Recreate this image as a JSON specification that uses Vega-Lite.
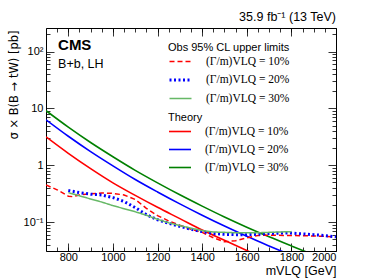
{
  "$schema": "https://vega.github.io/schema/vega-lite/v6.json",
  "width": 290,
  "height": 223,
  "autosize": {"type": "none"},
  "padding": {"left": 46, "top": 28, "right": 38, "bottom": 29},
  "title": {"text": "35.9 fb⁻¹ (13 TeV)", "anchor": "end", "frame": "group", "offset": 4, "fontSize": 12.5, "fontWeight": "normal", "font": "Liberation Sans", "color": "black"},
  "config": {
    "view": {"stroke": "black", "strokeWidth": 1},
    "axis": {"grid": false, "domain": false, "tickColor": "black", "tickWidth": 0.8, "labelColor": "black", "titleColor": "black", "labelFont": "Liberation Sans", "titleFont": "Liberation Sans", "titleFontWeight": "normal"},
    "legend": {"symbolType": "stroke", "padding": 0}
  },
  "datasets": {
    "theory": [
      {"m": 700, "xsec": 3.16, "w": "10%"}, {"m": 800, "xsec": 1.62, "w": "10%"}, {"m": 900, "xsec": 0.871, "w": "10%"}, {"m": 1000, "xsec": 0.49, "w": "10%"}, {"m": 1100, "xsec": 0.295, "w": "10%"}, {"m": 1200, "xsec": 0.182, "w": "10%"}, {"m": 1300, "xsec": 0.115, "w": "10%"}, {"m": 1400, "xsec": 0.0724, "w": "10%"}, {"m": 1500, "xsec": 0.0479, "w": "10%"}, {"m": 1600, "xsec": 0.0316, "w": "10%"}, {"m": 1700, "xsec": 0.021, "w": "10%"},
      {"m": 700, "xsec": 6.31, "w": "20%"}, {"m": 800, "xsec": 3.24, "w": "20%"}, {"m": 900, "xsec": 1.74, "w": "20%"}, {"m": 1000, "xsec": 0.977, "w": "20%"}, {"m": 1100, "xsec": 0.562, "w": "20%"}, {"m": 1200, "xsec": 0.339, "w": "20%"}, {"m": 1300, "xsec": 0.209, "w": "20%"}, {"m": 1400, "xsec": 0.132, "w": "20%"}, {"m": 1500, "xsec": 0.0851, "w": "20%"}, {"m": 1600, "xsec": 0.0562, "w": "20%"}, {"m": 1700, "xsec": 0.038, "w": "20%"}, {"m": 1800, "xsec": 0.026, "w": "20%"},
      {"m": 700, "xsec": 9.12, "w": "30%"}, {"m": 800, "xsec": 4.68, "w": "30%"}, {"m": 900, "xsec": 2.51, "w": "30%"}, {"m": 1000, "xsec": 1.41, "w": "30%"}, {"m": 1100, "xsec": 0.813, "w": "30%"}, {"m": 1200, "xsec": 0.49, "w": "30%"}, {"m": 1300, "xsec": 0.302, "w": "30%"}, {"m": 1400, "xsec": 0.191, "w": "30%"}, {"m": 1500, "xsec": 0.123, "w": "30%"}, {"m": 1600, "xsec": 0.0813, "w": "30%"}, {"m": 1700, "xsec": 0.055, "w": "30%"}, {"m": 1800, "xsec": 0.038, "w": "30%"}, {"m": 1900, "xsec": 0.0265, "w": "30%"}
    ],
    "obs": [
      {"m": 700, "xsec": 0.45, "w": "10%"}, {"m": 750, "xsec": 0.37, "w": "10%"}, {"m": 800, "xsec": 0.285, "w": "10%"}, {"m": 820, "xsec": 0.28, "w": "10%"}, {"m": 850, "xsec": 0.3, "w": "10%"}, {"m": 900, "xsec": 0.315, "w": "10%"}, {"m": 950, "xsec": 0.325, "w": "10%"}, {"m": 1000, "xsec": 0.32, "w": "10%"}, {"m": 1050, "xsec": 0.3, "w": "10%"}, {"m": 1100, "xsec": 0.25, "w": "10%"}, {"m": 1150, "xsec": 0.175, "w": "10%"}, {"m": 1200, "xsec": 0.13, "w": "10%"}, {"m": 1250, "xsec": 0.105, "w": "10%"}, {"m": 1300, "xsec": 0.088, "w": "10%"}, {"m": 1350, "xsec": 0.075, "w": "10%"}, {"m": 1400, "xsec": 0.066, "w": "10%"}, {"m": 1450, "xsec": 0.053, "w": "10%"}, {"m": 1500, "xsec": 0.045, "w": "10%"}, {"m": 1550, "xsec": 0.047, "w": "10%"}, {"m": 1600, "xsec": 0.053, "w": "10%"}, {"m": 1650, "xsec": 0.058, "w": "10%"}, {"m": 1700, "xsec": 0.059, "w": "10%"}, {"m": 1800, "xsec": 0.058, "w": "10%"}, {"m": 1900, "xsec": 0.057, "w": "10%"}, {"m": 2000, "xsec": 0.055, "w": "10%"},
      {"m": 800, "xsec": 0.36, "w": "20%"}, {"m": 850, "xsec": 0.33, "w": "20%"}, {"m": 900, "xsec": 0.31, "w": "20%"}, {"m": 950, "xsec": 0.3, "w": "20%"}, {"m": 1000, "xsec": 0.27, "w": "20%"}, {"m": 1050, "xsec": 0.23, "w": "20%"}, {"m": 1100, "xsec": 0.18, "w": "20%"}, {"m": 1150, "xsec": 0.135, "w": "20%"}, {"m": 1200, "xsec": 0.11, "w": "20%"}, {"m": 1250, "xsec": 0.095, "w": "20%"}, {"m": 1300, "xsec": 0.084, "w": "20%"}, {"m": 1350, "xsec": 0.075, "w": "20%"}, {"m": 1400, "xsec": 0.068, "w": "20%"}, {"m": 1450, "xsec": 0.063, "w": "20%"}, {"m": 1500, "xsec": 0.061, "w": "20%"}, {"m": 1550, "xsec": 0.06, "w": "20%"}, {"m": 1600, "xsec": 0.06, "w": "20%"}, {"m": 1650, "xsec": 0.061, "w": "20%"}, {"m": 1700, "xsec": 0.063, "w": "20%"}, {"m": 1750, "xsec": 0.064, "w": "20%"}, {"m": 1800, "xsec": 0.064, "w": "20%"}, {"m": 1850, "xsec": 0.062, "w": "20%"}, {"m": 1900, "xsec": 0.06, "w": "20%"}, {"m": 1950, "xsec": 0.058, "w": "20%"}, {"m": 2000, "xsec": 0.055, "w": "20%"},
      {"m": 800, "xsec": 0.33, "w": "30%"}, {"m": 850, "xsec": 0.29, "w": "30%"}, {"m": 900, "xsec": 0.255, "w": "30%"}, {"m": 950, "xsec": 0.225, "w": "30%"}, {"m": 1000, "xsec": 0.195, "w": "30%"}, {"m": 1050, "xsec": 0.172, "w": "30%"}, {"m": 1100, "xsec": 0.152, "w": "30%"}, {"m": 1150, "xsec": 0.132, "w": "30%"}, {"m": 1200, "xsec": 0.112, "w": "30%"}, {"m": 1250, "xsec": 0.097, "w": "30%"}, {"m": 1300, "xsec": 0.087, "w": "30%"}, {"m": 1350, "xsec": 0.078, "w": "30%"}, {"m": 1400, "xsec": 0.071, "w": "30%"}, {"m": 1450, "xsec": 0.067, "w": "30%"}, {"m": 1500, "xsec": 0.066, "w": "30%"}, {"m": 1550, "xsec": 0.065, "w": "30%"}, {"m": 1600, "xsec": 0.065, "w": "30%"}, {"m": 1650, "xsec": 0.065, "w": "30%"}, {"m": 1700, "xsec": 0.066, "w": "30%"}, {"m": 1750, "xsec": 0.067, "w": "30%"}, {"m": 1800, "xsec": 0.068, "w": "30%"}
    ]
  },
  "layer": [
    {
      "data": {"name": "theory"},
      "mark": {"type": "line", "clip": true, "strokeWidth": 1.6, "interpolate": "monotone"},
      "encoding": {
        "x": {"field": "m", "type": "quantitative", "scale": {"domain": [700, 2000], "nice": false, "zero": false},
          "axis": {"orient": "bottom", "values": [800, 1000, 1200, 1400, 1600, 1800, 2000], "tickSize": -8, "labelPadding": 8, "labelFontSize": 11, "format": "d", "title": "mVLQ [GeV]", "titleFontSize": 12.5, "titleX": 290, "titleY": 19.5, "titleAlign": "right", "titleBaseline": "middle"}},
        "y": {"field": "xsec", "type": "quantitative", "scale": {"type": "log", "domain": [0.031, 260], "nice": false},
          "axis": {"orient": "left", "values": [0.1, 1, 10, 100], "tickSize": -8, "labelPadding": 11, "labelFontSize": 11, "labelExpr": "datum.value > 99 ? '10²' : datum.value > 9 ? '10' : datum.value > 0.9 ? '1' : '10⁻¹'", "title": "σ × B(B → tW) [pb]", "titleFont": "DejaVu Sans", "titleFontSize": 11.5, "titleX": -32, "titleY": 2, "titleAngle": -90, "titleAlign": "right", "titleBaseline": "middle"}},
        "color": {"field": "w", "type": "nominal", "scale": {"domain": ["10%", "20%", "30%"], "range": ["#ff0000", "#0000ff", "#008000"]},
          "legend": {"orient": "none", "legendX": 122, "legendY": 83.5, "title": "\u00a0\u00a0\u00a0\u00a0\u00a0\u00a0\u00a0\u00a0\u00a0\u00a0\u00a0Theory", "titleFont": "Liberation Sans", "titleFontSize": 11, "titleFontWeight": "normal", "titleColor": "black", "titlePadding": -3, "labelExpr": "'(Γ/m)VLQ = ' + datum.label", "labelFont": "Liberation Serif", "labelFontSize": 11.5, "labelColor": "black", "labelOffset": 13, "symbolSize": 484, "symbolStrokeWidth": 1.6, "rowPadding": -5}}
      }
    },
    {
      "data": {"name": "obs"},
      "mark": {"type": "line", "clip": true},
      "encoding": {
        "x": {"field": "m", "type": "quantitative", "scale": {"domain": [700, 2000], "nice": false, "zero": false},
          "axis": {"orient": "bottom", "values": [700, 750, 800, 850, 900, 950, 1000, 1050, 1100, 1150, 1200, 1250, 1300, 1350, 1400, 1450, 1500, 1550, 1600, 1650, 1700, 1750, 1800, 1850, 1900, 1950, 2000], "tickSize": -4, "labels": false, "title": null}},
        "y": {"field": "xsec", "type": "quantitative", "scale": {"type": "log", "domain": [0.031, 260], "nice": false},
          "axis": {"orient": "left", "values": [0.04, 0.05, 0.06, 0.07, 0.08, 0.09, 0.2, 0.3, 0.4, 0.5, 0.6, 0.7, 0.8, 0.9, 2, 3, 4, 5, 6, 7, 8, 9, 20, 30, 40, 50, 60, 70, 80, 90, 200], "tickSize": -4, "labels": false, "title": null}},
        "color": {"field": "w", "type": "nominal", "scale": {"domain": ["10%", "20%", "30%"], "range": ["#ff0000", "#0000ff", "#66b866"]},
          "legend": {"orient": "none", "legendX": 122, "legendY": 13.5, "title": "\u00a0\u00a0\u00a0\u00a0\u00a0\u00a0\u00a0\u00a0\u00a0\u00a0\u00a0Obs 95% CL upper limits", "titleFont": "Liberation Sans", "titleFontSize": 11, "titleFontWeight": "normal", "titleColor": "black", "titlePadding": -3, "labelExpr": "'(Γ/m)VLQ = ' + datum.label", "labelFont": "Liberation Serif", "labelFontSize": 11.5, "labelColor": "black", "labelOffset": 13, "symbolSize": 484, "rowPadding": -5}},
        "strokeDash": {"field": "w", "type": "nominal", "scale": {"domain": ["10%", "20%", "30%"], "range": [[5, 3], [2, 2.5], [1, 0]]},
          "legend": {"orient": "none", "legendX": 122, "legendY": 13.5, "title": "\u00a0\u00a0\u00a0\u00a0\u00a0\u00a0\u00a0\u00a0\u00a0\u00a0\u00a0Obs 95% CL upper limits", "titleFont": "Liberation Sans", "titleFontSize": 11, "titleFontWeight": "normal", "titleColor": "black", "titlePadding": -3, "labelExpr": "'(Γ/m)VLQ = ' + datum.label", "labelFont": "Liberation Serif", "labelFontSize": 11.5, "labelColor": "black", "labelOffset": 13, "symbolSize": 484, "rowPadding": -5}},
        "strokeWidth": {"field": "w", "type": "nominal", "scale": {"type": "ordinal", "domain": ["10%", "20%", "30%"], "range": [1.5, 3, 1.5]},
          "legend": {"orient": "none", "legendX": 122, "legendY": 13.5, "title": "\u00a0\u00a0\u00a0\u00a0\u00a0\u00a0\u00a0\u00a0\u00a0\u00a0\u00a0Obs 95% CL upper limits", "titleFont": "Liberation Sans", "titleFontSize": 11, "titleFontWeight": "normal", "titleColor": "black", "titlePadding": -3, "labelExpr": "'(Γ/m)VLQ = ' + datum.label", "labelFont": "Liberation Serif", "labelFontSize": 11.5, "labelColor": "black", "labelOffset": 13, "symbolSize": 484, "rowPadding": -5}}
      }
    },
    {
      "data": {"name": "obs"},
      "mark": {"type": "point", "opacity": 0},
      "encoding": {
        "x": {"field": "m", "type": "quantitative", "scale": {"domain": [700, 2000], "nice": false, "zero": false},
          "axis": {"orient": "top", "values": [800, 1000, 1200, 1400, 1600, 1800, 2000], "tickSize": -8, "labels": false, "title": null}},
        "y": {"field": "xsec", "type": "quantitative", "scale": {"type": "log", "domain": [0.031, 260], "nice": false},
          "axis": {"orient": "right", "values": [0.1, 1, 10, 100], "tickSize": -8, "labels": false, "title": null}}
      }
    },
    {
      "data": {"name": "obs"},
      "mark": {"type": "point", "opacity": 0},
      "encoding": {
        "x": {"field": "m", "type": "quantitative", "scale": {"domain": [700, 2000], "nice": false, "zero": false},
          "axis": {"orient": "top", "values": [700, 750, 800, 850, 900, 950, 1000, 1050, 1100, 1150, 1200, 1250, 1300, 1350, 1400, 1450, 1500, 1550, 1600, 1650, 1700, 1750, 1800, 1850, 1900, 1950, 2000], "tickSize": -4, "labels": false, "title": null}},
        "y": {"field": "xsec", "type": "quantitative", "scale": {"type": "log", "domain": [0.031, 260], "nice": false},
          "axis": {"orient": "right", "values": [0.04, 0.05, 0.06, 0.07, 0.08, 0.09, 0.2, 0.3, 0.4, 0.5, 0.6, 0.7, 0.8, 0.9, 2, 3, 4, 5, 6, 7, 8, 9, 20, 30, 40, 50, 60, 70, 80, 90, 200], "tickSize": -4, "labels": false, "title": null}}
      }
    },
    {
      "data": {"values": [{"t": "CMS"}]},
      "mark": {"type": "text", "align": "left", "baseline": "middle", "font": "Liberation Sans", "fontSize": 15, "fontWeight": "bold", "color": "black"},
      "encoding": {
        "text": {"field": "t"},
        "x": {"datum": 754, "type": "quantitative", "axis": null},
        "y": {"datum": 129, "type": "quantitative", "axis": null}
      }
    },
    {
      "data": {"values": [{"t": "B+b, LH"}]},
      "mark": {"type": "text", "align": "left", "baseline": "middle", "font": "Liberation Sans", "fontSize": 12.5, "color": "black"},
      "encoding": {
        "text": {"field": "t"},
        "x": {"datum": 754, "type": "quantitative", "axis": null},
        "y": {"datum": 61.7, "type": "quantitative", "axis": null}
      }
    }
  ],
  "resolve": {
    "scale": {"color": "independent", "strokeDash": "independent", "strokeWidth": "independent"},
    "axis": {"x": "independent", "y": "independent"}
  }
}
